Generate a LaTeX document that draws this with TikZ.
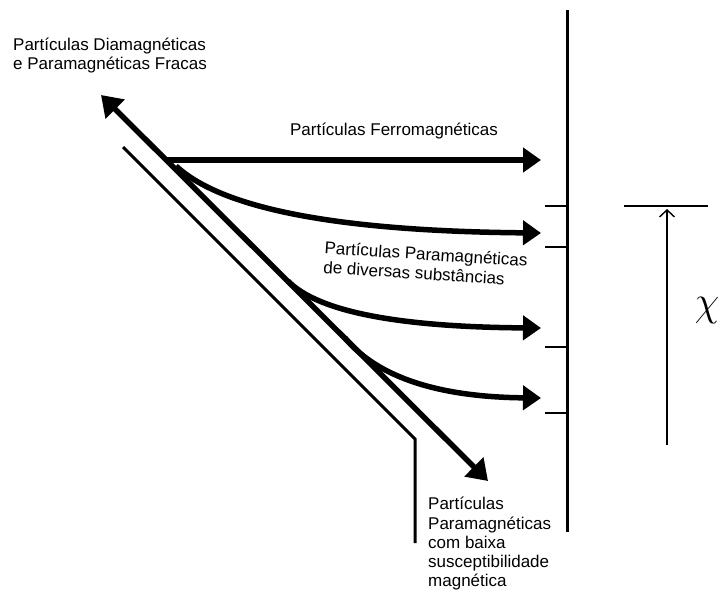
\documentclass[tikz,border=0pt]{standalone}
\usepackage{fontspec}
\setmainfont{Liberation Sans}
\usetikzlibrary{arrows.meta}
\begin{document}
\begin{tikzpicture}[x=1pt,y=-1pt,
  thick arrow/.style={line width=5.5pt,-{Triangle[length=18pt,width=24pt]}},
  thin line/.style={line width=3pt},
  lbl/.style={font=\fontsize{17}{18.5}\selectfont, inner sep=0pt},
  tick/.style={line width=2.5pt}]
\useasboundingbox (0,0) rectangle (719,592);
% coordinates
\coordinate (dTop) at (101,95);
\coordinate (dBot) at (488,481);
\coordinate (fStart) at (166,160);
\coordinate (fEnd) at (541,160);
\coordinate (c2s) at (176,166);
\coordinate (c2e) at (541,233);
\coordinate (c3s) at (288,281);
\coordinate (c3e) at (541,328);
\coordinate (c4s) at (345,338);
\coordinate (c4e) at (541,398);
\coordinate (tA) at (123,147);
\coordinate (tB) at (415,439);
\coordinate (tC) at (415,543);
\coordinate (vTop) at (567,10);
\coordinate (vBot) at (567,532);
% main diagonal double arrow
\draw[line width=5.5pt,{Triangle[length=20pt,width=26pt]}-{Triangle[length=20pt,width=26pt]}] (dTop) -- (dBot);
% thin parallel line
\draw[thin line] (tA) -- (tB) -- (tC);
% horizontal and curved arrows
\draw[thick arrow] (fStart) -- (fEnd);
\draw[thick arrow] (c2s) .. controls (220,207) and (330,231) .. (c2e);
\draw[thick arrow] (c3s) .. controls (318,312) and (400,327) .. (c3e);
\draw[thick arrow] (c4s) .. controls (378,378) and (440,397) .. (c4e);
% vertical scale line and ticks
\draw[line width=3pt] (vTop) -- (vBot);
\foreach \y/\n in {206/a,247/b,347/c,413/d}{
  \coordinate (k\n) at (545,\y);
  \draw[tick] (k\n) -- (567,\y);
}
% chi scale
\coordinate (hL) at (624,206);
\coordinate (hR) at (708,206);
\draw[line width=1.6pt] (hL) -- (hR);
\coordinate (aBot) at (667,445);
\coordinate (aTop) at (667,209);
\draw[line width=1.4pt,-{Straight Barb[length=7pt,width=15pt]}] (aBot) -- (aTop);
\node[inner sep=0pt, xscale=1.6, yscale=1.7] (chi) at (707,310.5) {\fontsize{24.88}{25}\selectfont$\chi$};
% labels
\node[lbl, anchor=north west, align=left] (diam) at (13,38) {Partículas Diamagnéticas\\e Paramagnéticas Fracas};
\node[lbl] (ferro) at (394,131) {Partículas Ferromagnéticas};
\node[lbl, align=left, rotate=-3.6, anchor=north west, font=\fontsize{17}{19.5}\selectfont] (para) at (325,241) {Partículas Paramagnéticas\\de diversas substâncias};
\node[lbl, align=left, anchor=north west, font=\fontsize{17}{19.3}\selectfont] (baixa) at (428,497) {Partículas\\Paramagnéticas\\com baixa\\susceptibilidade\\magnética};
\end{tikzpicture}
\end{document}
